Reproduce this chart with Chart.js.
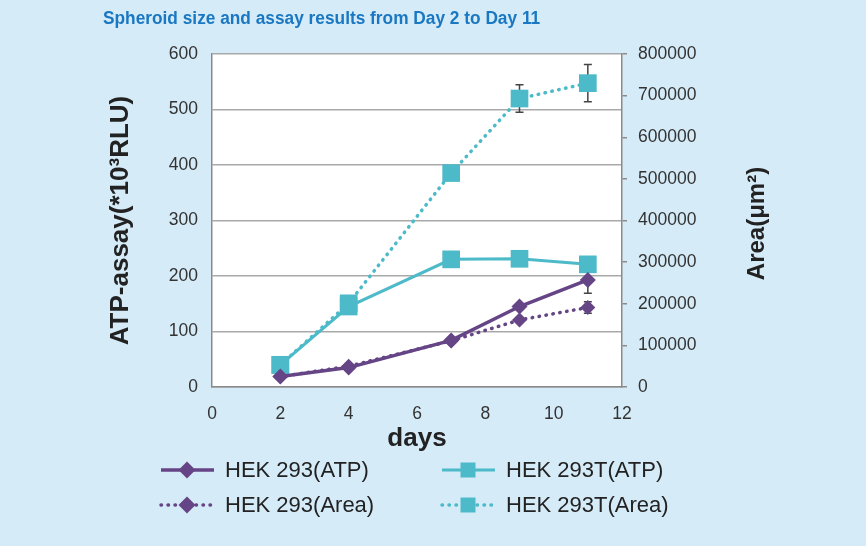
<!DOCTYPE html>
<html>
<head>
<meta charset="utf-8">
<script src="https://cdn.jsdelivr.net/npm/chart.js@4.4.1/dist/chart.umd.min.js"></script>
<style>
  body { margin: 0; background: #d5ebf8; font-family: "Liberation Sans", Arial, sans-serif; }
  #wrap { position: relative; width: 866px; height: 546px; }
  #chart { position: absolute; left: 0; top: 0; }
  #title { position: absolute; left: 103px; top: 8px; color: #1a78c2; font-weight: bold; font-size: 18px; white-space: nowrap; transform-origin: 0 0; }
  .leg { position: absolute; display: flex; align-items: center; font-size: 22px; color: #222; white-space: nowrap; }
  .leg canvas { margin-right: 10px; }
</style>
</head>
<body>
<div id="wrap">
  <canvas id="chart" width="866" height="546"></canvas>
  <div id="title">Spheroid size and assay results from Day 2 to Day 11</div>
  <div id="legend"></div>
</div>
<script>
const days = [2, 4, 7, 9, 11];
const hek293Atp = [19, 35, 84, 145, 193];
const hek293tAtp = [40, 145, 230, 231, 221];
const hek293Area = [25000, 50000, 111000, 161000, 191000];
const hek293tArea = [53000, 201000, 514000, 693000, 730000];
const hek293AtpErr = [0, 0, 0, 0, 24];
const hek293AreaErr = [0, 0, 0, 0, 14000];
const hek293tAtpErr = [0, 0, 0, 0, 0];
const hek293tAreaErr = [0, 0, 0, 33000, 45000];

const purple = '#654586';
const teal = '#4cbac8';
const fontFamily = '"Liberation Sans", Arial, sans-serif';

// stretch the title to the reference width
const titleEl = document.getElementById('title');
titleEl.style.transform = 'scaleX(' + (437 / titleEl.offsetWidth) + ')';

function pts(vals) {
  return days.map((d, i) => ({ x: d, y: vals[i] }));
}

const datasets = [
  { label: 'HEK 293(ATP)', data: pts(hek293Atp), errors: hek293AtpErr, yAxisID: 'y',
    borderColor: purple, backgroundColor: purple, borderWidth: 3.5,
    pointStyle: 'rectRot', pointRadius: 8, dotted: false },
  { label: 'HEK 293T(ATP)', data: pts(hek293tAtp), errors: hek293tAtpErr, yAxisID: 'y',
    borderColor: teal, backgroundColor: teal, borderWidth: 3,
    pointStyle: 'rect', pointRadius: 12.5, dotted: false },
  { label: 'HEK 293(Area)', data: pts(hek293Area), errors: hek293AreaErr, yAxisID: 'y2',
    borderColor: purple, backgroundColor: purple, borderWidth: 3.5, borderDash: [0.5, 6.5], borderCapStyle: 'round',
    pointStyle: 'rectRot', pointRadius: 7.5, dotted: true },
  { label: 'HEK 293T(Area)', data: pts(hek293tArea), errors: hek293tAreaErr, yAxisID: 'y2',
    borderColor: teal, backgroundColor: teal, borderWidth: 3.5, borderDash: [0.5, 6.5], borderCapStyle: 'round',
    pointStyle: 'rect', pointRadius: 12.5, dotted: true }
];
datasets.forEach(ds => { ds.pointBorderWidth = 0; ds.pointHoverRadius = ds.pointRadius; });

// white plot area
const plotBg = {
  id: 'plotBg',
  beforeDraw(chart) {
    const { ctx, chartArea: a } = chart;
    ctx.save();
    ctx.fillStyle = '#ffffff';
    ctx.fillRect(a.left, a.top, a.right - a.left, a.bottom - a.top);
    ctx.restore();
  }
};

// error bars
const errorBars = {
  id: 'errorBars',
  beforeDatasetsDraw(chart) {
    const { ctx, scales } = chart;
    ctx.save();
    ctx.strokeStyle = '#444444';
    ctx.lineWidth = 1.5;
    chart.data.datasets.forEach(ds => {
      const ys = scales[ds.yAxisID];
      ds.data.forEach((p, i) => {
        const e = ds.errors[i];
        if (!e) return;
        const px = scales.x.getPixelForValue(p.x);
        const top = ys.getPixelForValue(p.y + e);
        const bot = ys.getPixelForValue(p.y - e);
        ctx.beginPath();
        ctx.moveTo(px, top); ctx.lineTo(px, bot);
        ctx.moveTo(px - 4, top); ctx.lineTo(px + 4, top);
        ctx.moveTo(px - 4, bot); ctx.lineTo(px + 4, bot);
        ctx.stroke();
      });
    });
    ctx.restore();
  }
};

// right axis title, reading bottom to top like the left one
const rightTitle = {
  id: 'rightTitle',
  afterDraw(chart) {
    const { ctx, chartArea: a } = chart;
    ctx.save();
    ctx.translate(757, (a.top + a.bottom) / 2 + 3);
    ctx.rotate(-Math.PI / 2);
    ctx.font = 'bold 24px ' + fontFamily;
    ctx.fillStyle = '#222';
    ctx.textAlign = 'center';
    ctx.textBaseline = 'middle';
    ctx.fillText('Area(μm²)', 0, 0);
    ctx.restore();
  }
};

const tickFont = { family: fontFamily, size: 17.5 };
const titleFont = { family: fontFamily, size: 26, weight: 'bold' };

new Chart(document.getElementById('chart'), {
  type: 'line',
  data: { datasets: datasets },
  options: {
    responsive: false,
    animation: false,
    layout: { padding: { left: 101, right: 93, top: 54, bottom: 90 } },
    plugins: { legend: { display: false }, tooltip: { enabled: false } },
    scales: {
      x: {
        type: 'linear', min: 0, max: 12,
        ticks: { stepSize: 2, color: '#333', font: tickFont, padding: 9 },
        grid: { display: false },
        border: { display: true, color: '#8a8a8a', width: 1.5 },
        title: { display: true, text: 'days', color: '#222', font: titleFont, padding: { top: 0, bottom: 2 } },
        afterFit(s) { s.height = 69; }
      },
      y: {
        position: 'left', min: 0, max: 600,
        ticks: { stepSize: 100, color: '#333', font: tickFont, padding: 14 },
        grid: { color: '#a9a9a9', lineWidth: 1.5, drawTicks: false },
        border: { display: true, color: '#8a8a8a', width: 1.5 },
        title: { display: true, text: 'ATP-assay(*10³RLU)', color: '#222', font: titleFont },
        afterFit(s) { s.width = 111; }
      },
      y2: {
        position: 'right', min: 0, max: 800000,
        ticks: { stepSize: 100000, color: '#333', font: tickFont, padding: 11, callback: v => String(v) },
        grid: { drawOnChartArea: false, drawTicks: true, tickLength: 5, color: '#8a8a8a', lineWidth: 1.5 },
        border: { display: true, color: '#8a8a8a', width: 1.5 },
        afterFit(s) { s.width = 151; }
      }
    }
  },
  plugins: [plotBg, errorBars, rightTitle]
});

// legend: two columns, line + marker symbol
const legendPos = [
  { left: 159, top: 470 }, { left: 440, top: 470 },
  { left: 159, top: 505 }, { left: 440, top: 505 }
];
const legendEl = document.getElementById('legend');
datasets.forEach((ds, k) => {
  const item = document.createElement('div');
  item.className = 'leg';
  item.style.left = legendPos[k].left + 'px';
  item.style.top = (legendPos[k].top - 13) + 'px';
  const c = document.createElement('canvas');
  c.width = 56; c.height = 26;
  const g = c.getContext('2d');
  g.strokeStyle = ds.borderColor;
  g.lineWidth = ds.borderWidth;
  if (ds.dotted) { g.setLineDash(ds.borderDash); g.lineCap = 'round'; }
  g.beginPath(); g.moveTo(2, 13); g.lineTo(55, 13); g.stroke();
  g.setLineDash([]);
  g.fillStyle = ds.backgroundColor;
  const r = ds.pointStyle === 'rect' ? 7.5 : 8.5;
  g.beginPath();
  if (ds.pointStyle === 'rect') {
    g.rect(28 - r, 13 - r, 2 * r, 2 * r);
  } else {
    g.moveTo(28, 13 - r); g.lineTo(28 + r, 13); g.lineTo(28, 13 + r); g.lineTo(28 - r, 13); g.closePath();
  }
  g.fill();
  item.appendChild(c);
  const t = document.createElement('span');
  t.textContent = ds.label;
  item.appendChild(t);
  legendEl.appendChild(item);
});
</script>
</body>
</html>
